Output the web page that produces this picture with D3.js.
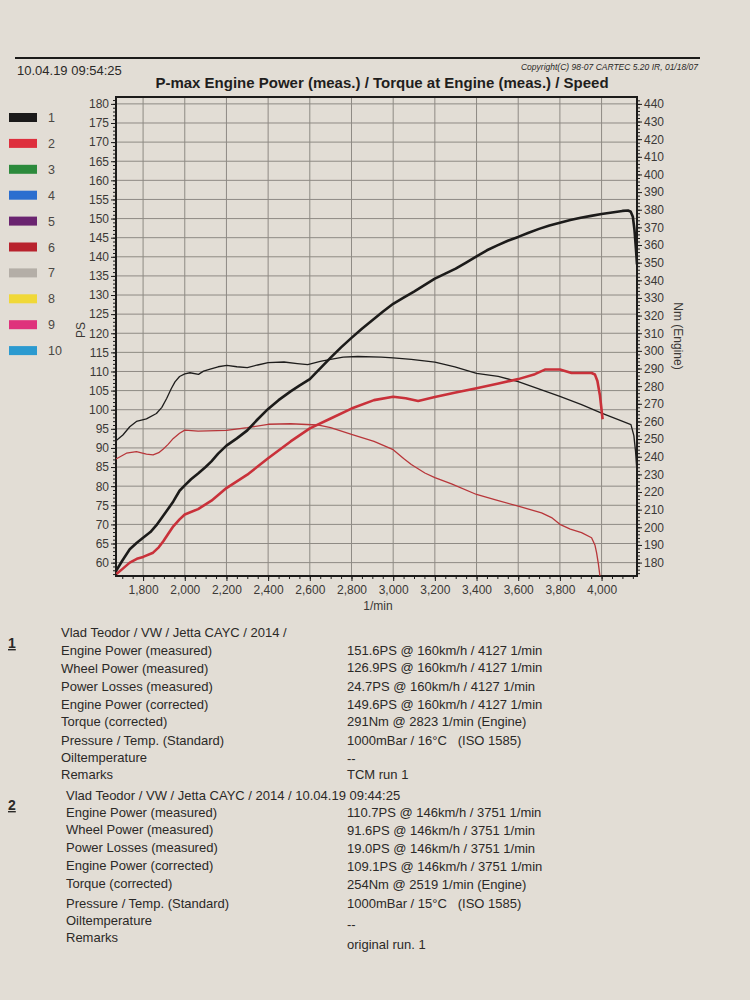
<!DOCTYPE html>
<html>
<head>
<meta charset="utf-8">
<script src="https://cdn.jsdelivr.net/npm/d3@7"></script>
<style>
  body { margin: 0; background: #e2ddd5; }
  svg { display: block; font-family: "Liberation Sans", Arial, sans-serif; }
  text { white-space: pre; }
</style>
</head>
<body>
<svg id="chart" width="750" height="1000"></svg>
<script>
// dyno printout: run 1 (black) and run 2 (red), power in PS, torque in Nm
const power1Rpm = [1670,1700,1736,1770,1800,1835,1864,1900,1945,1975,2000,2030,2064,2100,2128,2160,2200,2250,2300,2350,2400,2450,2508,2550,2600,2650,2700,2750,2800,2850,2900,2950,3000,3050,3100,3150,3200,3250,3300,3350,3400,3450,3500,3550,3600,3650,3700,3750,3800,3850,3900,3950,4000,4050,4100,4127,4140,4150,4158,4165,4170];
const power1 = [57.8,60.5,63.5,65.2,66.5,68,69.8,72.5,76,78.8,80.2,81.8,83.3,85,86.5,88.5,90.6,92.5,94.6,97.5,100.2,102.5,104.8,106.3,108,110.8,113.6,116.3,118.8,121.2,123.4,125.6,127.7,129.3,130.9,132.6,134.3,135.6,136.9,138.5,140.1,141.7,143,144.2,145.2,146.3,147.3,148.2,148.9,149.6,150.2,150.7,151.2,151.6,152,152.1,151.8,150.5,147,142,138];

const torque1Rpm = [1670,1703,1736,1768,1816,1864,1890,1913,1935,1953,1975,2000,2025,2066,2090,2122,2160,2202,2250,2300,2350,2400,2476,2540,2590,2650,2700,2760,2830,2943,3000,3087,3200,3296,3400,3504,3600,3712,3800,3904,4000,4080,4141,4155,4163,4170];
const torque1 = [249,252.3,257,260,261.5,264.5,268,273,278.5,282.4,285.5,287,287.6,286.7,288.5,289.6,291,291.8,291,290.5,292,293.3,293.7,292.8,292.2,294,295.2,296.5,296.8,296.5,296,295.2,293.6,290.9,287.3,285.5,282.6,277.9,274.2,269.5,264.7,261,258.2,252,243,231];

const power2Rpm = [1672,1700,1736,1770,1800,1848,1875,1897,1920,1945,1975,2000,2064,2128,2200,2300,2400,2508,2600,2700,2800,2908,3000,3060,3120,3200,3300,3400,3500,3600,3680,3728,3800,3856,3952,3968,3980,3992,4005];
const power2 = [57,58.3,60,61,61.5,62.6,64,65.6,67.5,69.5,71.3,72.6,74,76.2,79.5,83,87.3,91.7,95.1,97.7,100.3,102.5,103.4,103,102.3,103.3,104.5,105.6,106.8,108,109.3,110.5,110.5,109.6,109.6,109.2,107.5,103.8,97.5];

const torque2Rpm = [1670,1720,1768,1816,1848,1875,1897,1920,1945,1975,2000,2064,2200,2300,2400,2508,2637,2700,2800,2908,3000,3050,3087,3152,3200,3280,3400,3500,3600,3712,3760,3800,3850,3904,3952,3968,3976,3985,3992];
const torque2 = [238.7,242,242.9,241.5,241.1,242.3,244.4,247,250.4,253.3,255.1,254.5,254.9,256.5,258.4,258.7,258,256.5,252.7,248.7,244,239,235.6,230.8,228.2,224.6,218.6,215.2,212,208.2,205.5,201.7,199,197,194.1,190,185.6,179,172.5];

const psTicks = d3.range(60, 181, 5);
const nmTicks = d3.range(180, 441, 10);
const rpmTicks = d3.range(1800, 4001, 200);

const legendItems = ["1","2","3","4","5","6","7","8","9","10"];
const legendColors = ["#1b1a1a","#de2f3d","#2c8a3c","#2b6ecf","#6a2470","#b8222d","#b4aea7","#f0d838","#df327c","#2b9ad0"];

const run1Label = ["Vlad Teodor / VW / Jetta CAYC / 2014 /","Engine Power (measured)","Wheel Power (measured)","Power Losses (measured)","Engine Power (corrected)","Torque (corrected)","Pressure / Temp. (Standard)","Oiltemperature","Remarks"];
const run1Value = ["","151.6PS @ 160km/h / 4127 1/min","126.9PS @ 160km/h / 4127 1/min","24.7PS @ 160km/h / 4127 1/min","149.6PS @ 160km/h / 4127 1/min","291Nm @ 2823 1/min (Engine)","1000mBar / 16°C   (ISO 1585)","--","TCM run 1"];
const run2Label = ["Vlad Teodor / VW / Jetta CAYC / 2014 / 10.04.19 09:44:25","Engine Power (measured)","Wheel Power (measured)","Power Losses (measured)","Engine Power (corrected)","Torque (corrected)","Pressure / Temp. (Standard)","Oiltemperature","Remarks"];
const run2Value = ["","110.7PS @ 146km/h / 3751 1/min","91.6PS @ 146km/h / 3751 1/min","19.0PS @ 146km/h / 3751 1/min","109.1PS @ 146km/h / 3751 1/min","254Nm @ 2519 1/min (Engine)","1000mBar / 15°C   (ISO 1585)","--","original run. 1"];

const svg = d3.select("#chart");
const ink = "#2b2927";
const plotL = 116, plotR = 637, plotT = 97, plotB = 576;

const x = d3.scaleLinear().domain([1670, 4170]).range([plotL, plotR]);
const yPS = d3.scaleLinear().domain([56.5, 181.8]).range([plotB, plotT]);
const yNm = d3.scaleLinear().domain([172.4, 443.9]).range([plotB, plotT]);

// header
svg.append("line").attr("x1", 15).attr("x2", 700).attr("y1", 58).attr("y2", 58)
  .attr("stroke", "#1c1b1a").attr("stroke-width", 2.2);
svg.append("text").attr("x", 17).attr("y", 75).attr("font-size", 13).attr("fill", ink)
  .text("10.04.19 09:54:25");
svg.append("text").attr("x", 698).attr("y", 70).attr("font-size", 8.5).attr("font-style", "italic")
  .attr("text-anchor", "end").attr("fill", ink).text("Copyright(C) 98-07 CARTEC 5.20 IR, 01/18/07");
svg.append("text").attr("x", 382).attr("y", 88).attr("font-size", 15).attr("font-weight", "bold")
  .attr("text-anchor", "middle").attr("fill", "#1f1e1d")
  .text("P-max Engine Power (meas.) / Torque at Engine (meas.) / Speed");

// legend
const legend = svg.append("g").selectAll("g").data(legendItems).join("g")
  .attr("transform", (d, i) => `translate(0,${117.5 + i * 25.9})`);
legend.append("rect").attr("x", 9).attr("y", -4.5).attr("width", 28).attr("height", 9)
  .attr("fill", (d, i) => legendColors[i]);
legend.append("text").attr("x", 48).attr("y", 4.5).attr("font-size", 12.5).attr("fill", "#4a4744")
  .text(d => d);

// grid
const grid = svg.append("g").attr("stroke", "#8e8a84").attr("stroke-width", 1);
grid.selectAll(".h").data(psTicks).join("line")
  .attr("x1", plotL).attr("x2", plotR).attr("y1", d => yPS(d)).attr("y2", d => yPS(d));
grid.selectAll(".v").data(rpmTicks).join("line")
  .attr("y1", plotT).attr("y2", plotB).attr("x1", d => x(d)).attr("x2", d => x(d));

// axes
const axisStyle = g => {
  g.select(".domain").remove();
  g.selectAll("line").attr("stroke", "#1c1b1a");
  g.selectAll("text").attr("fill", "#3b3835").attr("font-size", 12)
    .attr("font-family", "Liberation Sans, Arial, sans-serif");
};
svg.append("g").attr("transform", `translate(${plotL},0)`)
  .call(d3.axisLeft(yPS).tickValues(d3.range(57, 182, 1)).tickSize(3).tickFormat(""))
  .call(axisStyle);
svg.append("g").attr("transform", `translate(${plotL},0)`)
  .call(d3.axisLeft(yPS).tickValues(psTicks).tickSize(5).tickPadding(2))
  .call(axisStyle);
svg.append("g").attr("transform", `translate(${plotR},0)`)
  .call(d3.axisRight(yNm).tickValues(d3.range(174, 444, 2)).tickSize(3).tickFormat(""))
  .call(axisStyle);
svg.append("g").attr("transform", `translate(${plotR},0)`)
  .call(d3.axisRight(yNm).tickValues(nmTicks).tickSize(5).tickPadding(2))
  .call(axisStyle);
svg.append("g").attr("transform", `translate(0,${plotB})`)
  .call(d3.axisBottom(x).tickValues(d3.range(1700, 4170, 50)).tickSize(3).tickFormat(""))
  .call(axisStyle);
svg.append("g").attr("transform", `translate(0,${plotB})`)
  .call(d3.axisBottom(x).tickValues(rpmTicks).tickSize(5).tickPadding(4).tickFormat(d3.format(",")))
  .call(axisStyle);

svg.append("rect").attr("x", plotL).attr("y", plotT).attr("width", plotR - plotL).attr("height", plotB - plotT)
  .attr("fill", "none").attr("stroke", "#1c1b1a").attr("stroke-width", 2);

svg.append("text").attr("transform", "translate(85,330) rotate(-90)").attr("text-anchor", "middle")
  .attr("font-size", 12).attr("fill", "#3b3835").text("PS");
svg.append("text").attr("transform", "translate(674,336) rotate(90)").attr("text-anchor", "middle")
  .attr("font-size", 12).attr("fill", "#3b3835").text("Nm (Engine)");
svg.append("text").attr("x", 378).attr("y", 610).attr("text-anchor", "middle")
  .attr("font-size", 12).attr("fill", "#3b3835").text("1/min");

// curves
const curve = (rpm, vals, y) => d3.line().x(d => x(d[0])).y(d => y(d[1]))(d3.zip(rpm, vals));
const plot = svg.append("g").attr("fill", "none").attr("stroke-linejoin", "round");
plot.append("path").attr("d", curve(torque2Rpm, torque2, yNm)).attr("stroke", "#b8363a").attr("stroke-width", 1.3);
plot.append("path").attr("d", curve(torque1Rpm, torque1, yNm)).attr("stroke", "#1e1d1c").attr("stroke-width", 1.3);
plot.append("path").attr("d", curve(power2Rpm, power2, yPS)).attr("stroke", "#c9313a").attr("stroke-width", 2.6);
plot.append("path").attr("d", curve(power1Rpm, power1, yPS)).attr("stroke", "#1c1b1a").attr("stroke-width", 2.6);

// result tables
function block(num, numY, labels, values, lx, labelY, valueY) {
  svg.append("text").attr("x", 8).attr("y", numY).attr("font-size", 14).attr("font-weight", "bold")
    .attr("text-decoration", "underline").attr("fill", ink).text(num);
  svg.append("g").selectAll("text").data(labels).join("text")
    .attr("x", lx).attr("y", (d, i) => labelY[i]).attr("font-size", 13).attr("fill", ink).text(d => d);
  svg.append("g").selectAll("text").data(values).join("text")
    .attr("x", 347).attr("y", (d, i) => valueY[i]).attr("font-size", 13).attr("fill", ink).text(d => d);
}
block("1", 648, run1Label, run1Value, 61,
  [637, 655, 673, 691, 709, 726, 745, 762, 779],
  [0, 655, 672, 691, 709, 726, 745, 763, 779]);
block("2", 810, run2Label, run2Value, 66,
  [800, 817, 834, 852, 870, 888, 908, 925, 942],
  [0, 817, 835, 853, 871, 889, 908, 929, 949]);
</script>
</body>
</html>
